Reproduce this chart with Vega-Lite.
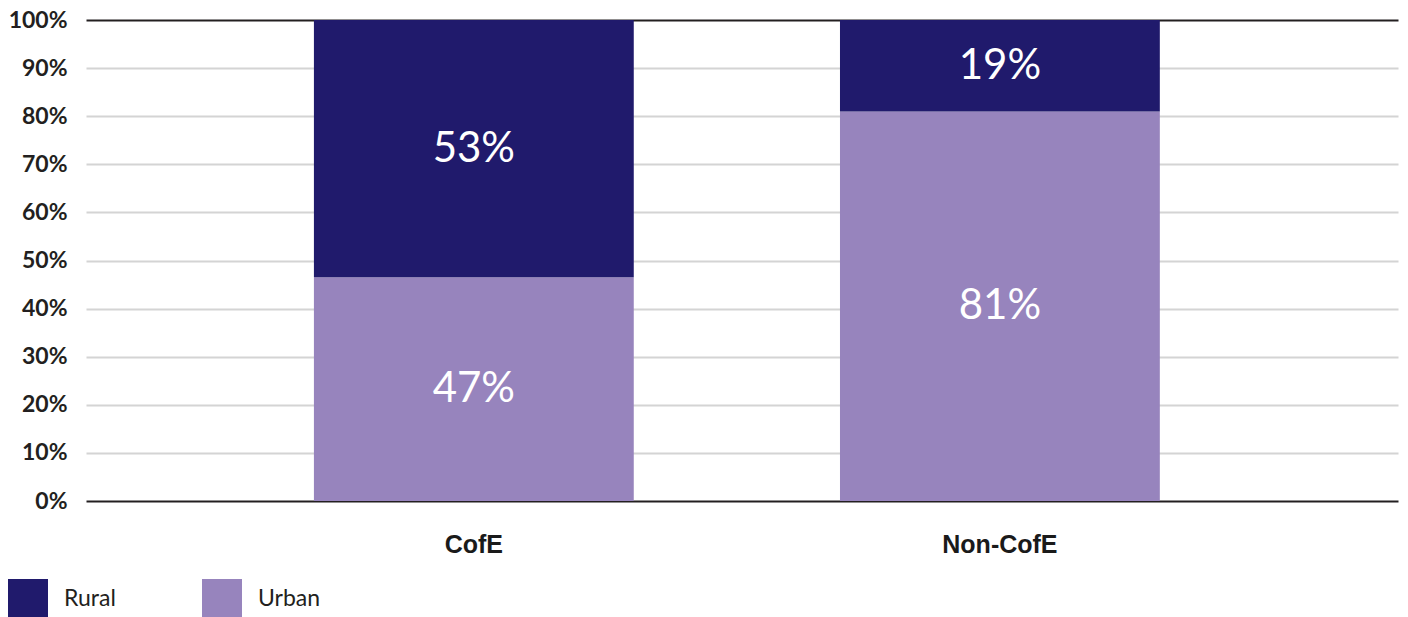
{
  "$schema": "https://vega.github.io/schema/vega-lite/v6.json",
  "autosize": {"type": "none"},
  "width": 1312,
  "height": 481,
  "padding": {"left": 86, "top": 20, "right": 10, "bottom": 116},
  "background": "white",
  "config": {"view": {"stroke": null}},
  "data": {
    "values": [
      {"group": "CofE", "area": "Urban", "value": 46.5, "label": "47%"},
      {"group": "CofE", "area": "Rural", "value": 53.5, "label": "53%"},
      {"group": "Non-CofE", "area": "Urban", "value": 81, "label": "81%"},
      {"group": "Non-CofE", "area": "Rural", "value": 19, "label": "19%"}
    ]
  },
  "transform": [
    {"stack": "value", "groupby": ["group"], "sort": [{"field": "area", "order": "descending"}], "as": ["y0", "y1"]},
    {"calculate": "(datum.y0 + datum.y1) / 2", "as": "ymid"}
  ],
  "encoding": {
    "x": {
      "field": "group", "type": "nominal", "title": null, "sort": ["CofE", "Non-CofE"],
      "scale": {"paddingInner": 0.392, "paddingOuter": 0.443, "align": 0.489},
      "axis": {"domain": false, "ticks": false, "labelAngle": 0, "labelPadding": 31,
        "labelFont": "Liberation Sans", "labelFontWeight": "bold", "labelFontSize": 25, "labelColor": "#1a1a1a"}
    }
  },
  "layer": [
    {
      "mark": {"type": "bar"},
      "encoding": {
        "y": {
          "field": "y0", "type": "quantitative", "title": null,
          "scale": {"domain": [0, 100], "nice": false},
          "axis": {
            "values": [0, 10, 20, 30, 40, 50, 60, 70, 80, 90, 100],
            "labelExpr": "datum.value + '%'",
            "domain": false, "ticks": false, "labelPadding": 19,
            "labelFont": "Lato", "labelFontWeight": "bold", "labelFontSize": 23, "labelColor": "#231f20",
            "grid": true, "gridWidth": 2,
            "gridColor": {"condition": {"test": "datum.value == 0 || datum.value == 100", "value": "#231f20"}, "value": "#d4d4d4"}
          }
        },
        "y2": {"field": "y1"},
        "color": {
          "field": "area", "type": "nominal", "sort": ["Rural", "Urban"],
          "scale": {"domain": ["Rural", "Urban"], "range": ["#201a6c", "#9784bd"]},
          "legend": {
            "title": null, "orient": "none", "legendX": -78, "legendY": 559, "direction": "horizontal",
            "symbolType": "square", "symbolSize": 1600, "symbolStrokeWidth": 0, "symbolOpacity": 1,
            "labelFont": "Lato", "labelFontSize": 23, "labelColor": "#231f20", "labelOffset": 16,
            "columnPadding": 86, "padding": 0
          }
        }
      }
    },
    {
      "mark": {"type": "text", "color": "white", "font": "Lato", "fontSize": 42, "baseline": "middle", "align": "center"},
      "encoding": {
        "y": {"field": "ymid", "type": "quantitative"},
        "text": {"field": "label"}
      }
    }
  ]
}
